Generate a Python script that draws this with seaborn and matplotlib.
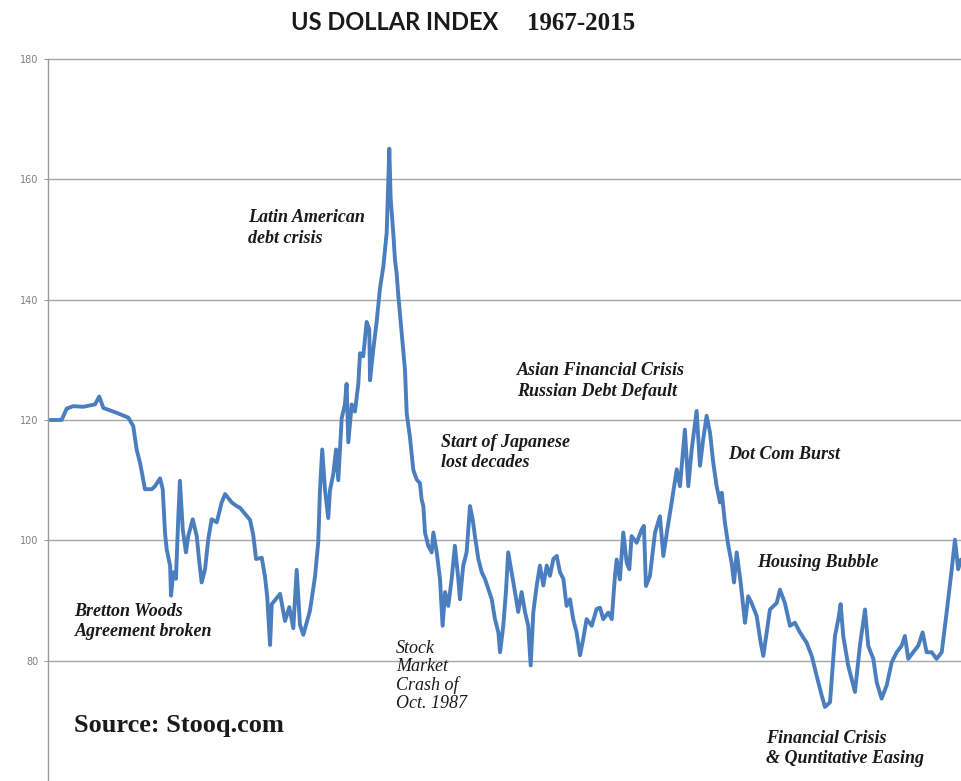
import numpy as np
import pandas as pd
import matplotlib
matplotlib.use("Agg")
import matplotlib.pyplot as plt
import seaborn as sns

# Valores (anio decimal, indice)
years = [
    1967.00, 1967.72, 1967.99, 1968.34, 1968.87, 1969.49, 1969.71, 1969.93, 1970.63, 1971.25,
    1971.51, 1971.69, 1971.87, 1972.13, 1972.49, 1972.66, 1972.93, 1973.07, 1973.19, 1973.28,
    1973.46, 1973.51, 1973.63, 1973.77, 1973.89, 1973.98, 1974.13, 1974.30, 1974.42, 1974.66,
    1974.87, 1975.01, 1975.13, 1975.31, 1975.48, 1975.66, 1975.93, 1976.19, 1976.37, 1976.72,
    1976.98, 1977.16, 1977.69, 1977.86, 1978.01, 1978.31, 1978.48, 1978.60, 1978.75, 1978.84,
    1979.28, 1979.54, 1979.77, 1979.98, 1980.16, 1980.33, 1980.51, 1980.86, 1981.13, 1981.30,
    1981.39, 1981.51, 1981.66, 1981.83, 1981.92, 1982.10, 1982.24, 1982.36, 1982.54, 1982.71,
    1982.80, 1982.89, 1983.07, 1983.24, 1983.42, 1983.51, 1983.68, 1983.86, 1984.00, 1984.04,
    1984.21, 1984.39, 1984.57, 1984.74, 1984.92, 1985.06, 1985.13, 1985.27, 1985.36, 1985.45,
    1985.53, 1985.66, 1985.89, 1985.98, 1986.15, 1986.33, 1986.51, 1986.68, 1986.77, 1986.86,
    1986.95, 1987.12, 1987.30, 1987.39, 1987.57, 1987.74, 1987.88, 1988.01, 1988.18, 1988.36,
    1988.53, 1988.71, 1988.80, 1988.97, 1989.15, 1989.33, 1989.47, 1989.59, 1989.77, 1989.95,
    1990.12, 1990.30, 1990.48, 1990.65, 1990.83, 1990.92, 1991.09, 1991.23, 1991.35, 1991.53,
    1991.71, 1991.88, 1992.06, 1992.24, 1992.41, 1992.54, 1992.68, 1992.86, 1993.03, 1993.21,
    1993.39, 1993.56, 1993.74, 1993.92, 1994.09, 1994.27, 1994.44, 1994.62, 1994.79, 1994.97,
    1995.15, 1995.32, 1995.50, 1995.77, 1996.03, 1996.21, 1996.38, 1996.65, 1996.83, 1997.00,
    1997.09, 1997.26, 1997.44, 1997.62, 1997.76, 1997.88, 1998.15, 1998.41, 1998.53, 1998.64,
    1998.85, 1999.12, 1999.38, 1999.56, 1999.77, 2000.00, 2000.27, 2000.44, 2000.70, 2000.88,
    2001.06, 2001.32, 2001.50, 2001.67, 2001.85, 2002.03, 2002.20, 2002.38, 2002.56, 2002.65,
    2002.82, 2003.00, 2003.17, 2003.30, 2003.44, 2003.65, 2003.88, 2004.05, 2004.23, 2004.50,
    2004.71, 2004.85, 2005.03, 2005.20, 2005.56, 2005.73, 2005.99, 2006.26, 2006.52, 2006.79,
    2007.14, 2007.41, 2007.67, 2007.94, 2008.11, 2008.38, 2008.64, 2008.82, 2008.94, 2009.08,
    2009.34, 2009.70, 2009.96, 2010.23, 2010.40, 2010.67, 2010.85, 2011.11, 2011.38, 2011.64,
    2011.91, 2012.17, 2012.34, 2012.52, 2012.78, 2013.05, 2013.28, 2013.49, 2013.76, 2014.02,
    2014.29, 2014.55, 2014.82, 2014.99, 2015.16, 2015.31,
]
index_values = [
    120.0, 120.0, 121.9, 122.3, 122.2, 122.6, 123.9, 122.0, 121.2, 120.4,
    119.0, 115.1, 112.9, 108.5, 108.5, 109.0, 110.3, 108.5, 101.3, 98.5,
    95.8, 90.8, 94.7, 93.6, 103.5, 109.9, 101.8, 98.0, 100.7, 103.5,
    100.7, 96.3, 93.0, 95.2, 100.2, 103.5, 103.0, 106.3, 107.7, 106.3,
    105.7, 105.4, 103.4, 100.9, 96.9, 97.1, 94.0, 90.6, 82.6, 89.4,
    91.1, 86.6, 88.9, 85.4, 95.1, 86.0, 84.3, 88.3, 94.0, 99.7,
    108.3, 115.1, 108.3, 103.7, 108.3, 111.1, 115.1, 110.0, 120.3, 122.6,
    126.0, 116.3, 122.6, 121.4, 126.0, 131.1, 130.6, 136.3, 135.1, 126.6,
    131.7, 136.3, 142.0, 145.4, 151.1, 165.1, 156.9, 151.1, 146.6, 144.3,
    140.9, 136.3, 128.3, 121.1, 117.2, 111.7, 110.1, 109.5, 106.8, 105.7,
    101.3, 99.1, 98.0, 101.3, 98.0, 93.6, 85.8, 91.4, 89.1, 93.6,
    99.1, 93.6, 90.2, 95.8, 98.0, 105.7, 103.5, 100.7, 96.9, 94.7,
    93.6, 91.9, 90.2, 86.9, 84.7, 81.4, 85.8, 91.4, 98.0, 94.7,
    91.4, 88.1, 91.4, 88.1, 85.8, 79.2, 88.1, 92.5, 95.8, 92.5,
    95.8, 94.1, 96.9, 97.4, 94.7, 93.6, 89.1, 90.2, 86.9, 84.7,
    80.9, 83.6, 86.9, 85.8, 88.6, 88.8, 86.9, 88.0, 86.9, 94.1,
    96.8, 93.5, 101.3, 96.3, 95.2, 100.7, 99.6, 101.8, 102.4, 92.4,
    94.1, 101.3, 104.0, 97.4, 101.8, 106.3, 111.8, 109.0, 118.4, 109.0,
    115.1, 121.5, 112.4, 116.8, 120.7, 117.9, 112.9, 109.0, 106.3, 107.9,
    102.9, 99.1, 96.3, 93.0, 98.0, 93.0, 86.3, 90.7, 89.6, 87.4,
    83.0, 80.8, 84.7, 88.5, 89.6, 91.8, 89.6, 85.8, 86.3, 84.7,
    83.0, 80.8, 77.5, 74.2, 72.3, 73.1, 84.1, 86.9, 89.4, 84.1,
    79.2, 74.8, 82.5, 88.5, 82.5, 80.3, 76.4, 73.7, 75.9, 79.7,
    81.4, 82.5, 84.1, 80.3, 81.4, 82.5, 84.7, 81.4, 81.4, 80.3,
    81.4, 88.0, 95.2, 100.1, 95.2, 96.8,
]
y_ticks = [80, 100, 120, 140, 160, 180]

df = pd.DataFrame({"year": years, "index": index_values})

sns.set_style("white")
plt.rcParams["font.family"] = ["DejaVu Sans"]

fig = plt.figure(figsize=(9.61, 7.81), dpi=100)
ax = fig.add_axes([48 / 961, 0.0, 1 - 48 / 961, 1 - 53 / 781])

sns.lineplot(data=df, x="year", y="index", color="#4a7ebf", linewidth=2.8,
             estimator=None, sort=False, ax=ax)

ax.set_xlim(1967.0, 2015.31)
ax.set_ylim(60, 181)
ax.set_yticks(y_ticks)
ax.set_yticklabels([str(t) for t in y_ticks])
ax.set_xticks([])
ax.set_xlabel("")
ax.set_ylabel("")

for t in y_ticks:
    ax.axhline(t, color="#a6a6a6", linewidth=1.0, zorder=0)

for s in ["top", "right", "bottom"]:
    ax.spines[s].set_visible(False)
ax.spines["left"].set_color("#9a9a9a")
ax.spines["left"].set_linewidth(1.0)
ax.spines["left"].set_bounds(60, 180)
ax.tick_params(axis="y", direction="out", length=3, width=0.8, color="#9a9a9a",
               labelsize=7, labelcolor="#808080", pad=4, left=True)

# Titulo en dos partes
fig.text(498 / 961, 1 - 23 / 781, "US DOLLAR INDEX", ha="right", va="center",
         fontsize=17, fontweight="bold", family="Lato", color="#1a1a1a")
fig.text(527 / 961, 1 - 24 / 781, "1967-2015", ha="left", va="center",
         fontsize=18, fontweight="bold", family="Liberation Serif", color="#1a1a1a")

note = dict(ha="left", va="center", fontsize=13, style="italic", fontweight="bold",
            family="Liberation Serif", color="#1a1a1a", linespacing=1.25)

ax.text(1977.6, 151.9, "Latin American\ndebt crisis", **note)
ax.text(1991.8, 126.5, "Asian Financial Crisis\nRussian Debt Default", **note)
ax.text(1987.8, 114.6, "Start of Japanese\nlost decades", **note)
ax.text(2003.0, 114.2, "Dot Com Burst", **note)
ax.text(2004.5, 96.3, "Housing Bubble", **note)
ax.text(1968.4, 86.5, "Bretton Woods\nAgreement broken", **note)
ax.text(2005.0, 65.4, "Financial Crisis\n& Quntitative Easing", **note)
ax.text(1985.4, 77.5, "Stock\nMarket\nCrash of\nOct. 1987", ha="left", va="center",
        fontsize=13, style="italic", family="Liberation Serif", color="#1a1a1a",
        linespacing=1.08)
ax.text(1968.4, 69.2, "Source: Stooq.com", ha="left", va="center", fontsize=19,
        fontweight="bold", family="Liberation Serif", color="#1a1a1a")

fig.savefig("out.png", dpi=100)
